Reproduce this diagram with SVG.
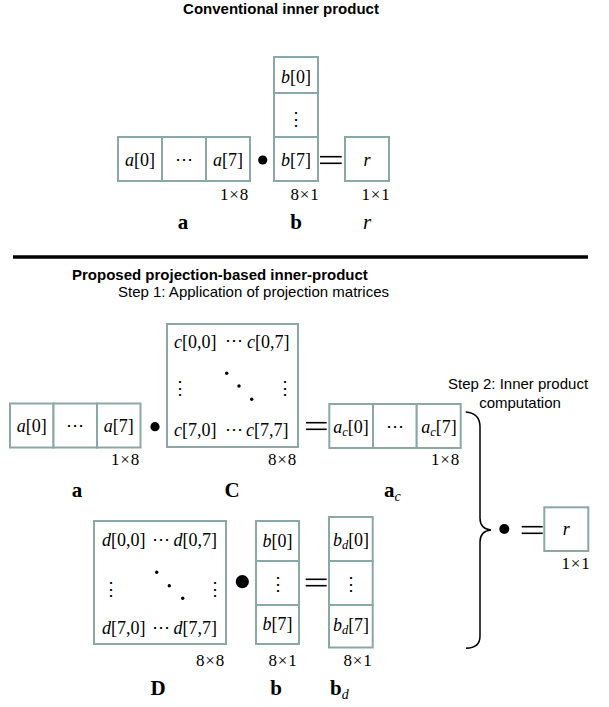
<svg xmlns="http://www.w3.org/2000/svg" width="609" height="707" viewBox="0 0 609 707">
<style>
.box{fill:#fff;stroke:#8ba7a8;stroke-width:2}
.m{font-family:"Liberation Serif","DejaVu Serif",serif;font-size:18px;fill:#000}
.i{font-style:italic}
.sz{font-family:"Liberation Serif","DejaVu Serif",serif;font-size:17px;letter-spacing:0.8px;fill:#000}
.lb{font-family:"Liberation Serif","DejaVu Serif",serif;font-weight:bold;font-size:21px;fill:#000}
.t{font-family:"Liberation Sans",Arial,sans-serif;font-size:15px;fill:#000}
.tb{font-weight:bold}
.eq{stroke:#000;stroke-width:1.6}
.dt{fill:#000}
.mid{text-anchor:middle}
.end{text-anchor:end}
.sub{font-size:12.5px}
</style>
<rect width="609" height="707" fill="#fff"/>

<text class="t tb mid" x="281" y="14">Conventional inner product</text>

<g id="top-a">
<rect class="box" x="118" y="137" width="44" height="44"/>
<rect class="box" x="162" y="137" width="44" height="44"/>
<rect class="box" x="206" y="137" width="44" height="44"/>
<text class="m mid" x="140" y="165.5"><tspan class="i">a</tspan>[0]</text>
<text class="m mid" x="184" y="164.5">⋯</text>
<text class="m mid" x="228" y="165.5"><tspan class="i">a</tspan>[7]</text>
<text class="sz end" x="249" y="200">1×8</text>
<text class="lb mid" x="183" y="229">a</text>
</g>

<g id="top-b">
<rect class="box" x="274" y="57" width="44" height="36"/>
<rect class="box" x="274" y="93" width="44" height="44"/>
<rect class="box" x="274" y="137" width="44" height="44"/>
<text class="m mid" x="296" y="83"><tspan class="i">b</tspan>[0]</text>
<text class="m mid" x="296" y="124.5">⋮</text>
<text class="m mid" x="296" y="165.5"><tspan class="i">b</tspan>[7]</text>
<text class="sz mid" x="305" y="200">8×1</text>
<text class="lb mid" x="296" y="229">b</text>
</g>

<g id="top-r">
<rect class="box" x="345" y="137" width="44" height="44"/>
<text class="m i mid" x="367" y="165.5">r</text>
<text class="sz mid" x="376" y="200">1×1</text>
<text class="m i mid" x="367" y="229" style="font-size:21px">r</text>
</g>

<line x1="13" y1="257" x2="588" y2="257" stroke="#000" stroke-width="3.5"/>

<text class="t tb" x="72" y="279.5">Proposed projection-based inner-product</text>
<text class="t" x="118" y="296.5">Step 1: Application of projection matrices</text>

<g id="mid-a">
<rect class="box" x="10" y="403.5" width="43.5" height="44"/>
<rect class="box" x="53.5" y="403.5" width="43.5" height="44"/>
<rect class="box" x="97" y="403.5" width="43.5" height="44"/>
<text class="m mid" x="31.75" y="432"><tspan class="i">a</tspan>[0]</text>
<text class="m mid" x="75.25" y="431">⋯</text>
<text class="m mid" x="118.75" y="432"><tspan class="i">a</tspan>[7]</text>
<text class="sz end" x="140" y="465">1×8</text>
<text class="lb mid" x="77" y="497">a</text>
</g>

<g id="mat-C">
<rect class="box" x="167" y="324" width="131" height="123"/>
<text class="m" x="174" y="347.5"><tspan class="i">c</tspan>[0,0]</text>
<text class="m mid" x="234" y="346">⋯</text>
<text class="m end" x="289.5" y="347.5"><tspan class="i">c</tspan>[0,7]</text>
<text class="m mid" x="180" y="393.5">⋮</text>
<text class="m mid" x="285" y="393.5">⋮</text>
<circle class="dt" cx="226.7" cy="373.3" r="1.7"/>
<circle class="dt" cx="239" cy="386" r="1.7"/>
<circle class="dt" cx="251.7" cy="399.3" r="1.7"/>
<text class="m" x="174" y="436"><tspan class="i">c</tspan>[7,0]</text>
<text class="m mid" x="234" y="434.5">⋯</text>
<text class="m end" x="288.5" y="436"><tspan class="i">c</tspan>[7,7]</text>
<text class="sz end" x="297" y="465">8×8</text>
<text class="lb mid" x="232" y="497">C</text>
</g>

<g id="vec-ac">
<rect class="box" x="329.3" y="404" width="43.7" height="44"/>
<rect class="box" x="373" y="404" width="43.7" height="44"/>
<rect class="box" x="416.7" y="404" width="44" height="44"/>
<text class="m mid" x="351" y="432.5"><tspan class="i">a</tspan><tspan class="i sub" dy="3">c</tspan><tspan dy="-3">[0]</tspan></text>
<text class="m mid" x="395" y="431.5">⋯</text>
<text class="m mid" x="439" y="432.5"><tspan class="i">a</tspan><tspan class="i sub" dy="3">c</tspan><tspan dy="-3">[7]</tspan></text>
<text class="sz end" x="460" y="465">1×8</text>
<text class="lb" x="384" y="497">a<tspan class="m i sub" style="font-weight:normal;font-size:14px" dy="4">c</tspan></text>
</g>

<text class="t mid" x="518" y="389">Step 2: Inner product</text>
<text class="t mid" x="520" y="408">computation</text>

<g id="mat-D">
<rect class="box" x="94" y="521" width="132" height="123"/>
<text class="m" x="102" y="546"><tspan class="i">d</tspan>[0,0]</text>
<text class="m mid" x="161" y="544.5">⋯</text>
<text class="m end" x="217" y="546"><tspan class="i">d</tspan>[0,7]</text>
<text class="m mid" x="110.7" y="594.5">⋮</text>
<text class="m mid" x="215" y="594.5">⋮</text>
<circle class="dt" cx="156.7" cy="572.3" r="1.7"/>
<circle class="dt" cx="169.3" cy="585.7" r="1.7"/>
<circle class="dt" cx="182.7" cy="598.3" r="1.7"/>
<text class="m" x="102" y="634"><tspan class="i">d</tspan>[7,0]</text>
<text class="m mid" x="161" y="632.5">⋯</text>
<text class="m end" x="217" y="634"><tspan class="i">d</tspan>[7,7]</text>
<text class="sz end" x="225" y="666">8×8</text>
<text class="lb mid" x="158" y="695">D</text>
</g>

<g id="bot-b">
<rect class="box" x="256" y="521" width="43" height="40"/>
<rect class="box" x="256" y="561" width="43" height="44"/>
<rect class="box" x="256" y="605" width="43" height="39"/>
<text class="m mid" x="277.5" y="546.5"><tspan class="i">b</tspan>[0]</text>
<text class="m mid" x="277.5" y="589.5">⋮</text>
<text class="m mid" x="277.5" y="630"><tspan class="i">b</tspan>[7]</text>
<text class="sz mid" x="283" y="666">8×1</text>
<text class="lb mid" x="276" y="695">b</text>
</g>

<g id="vec-bd">
<rect class="box" x="329" y="517" width="43.7" height="44"/>
<rect class="box" x="329" y="561" width="43.7" height="44"/>
<rect class="box" x="329" y="605" width="43.7" height="42.5"/>
<text class="m mid" x="351" y="546"><tspan class="i">b</tspan><tspan class="i sub" dy="3">d</tspan><tspan dy="-3">[0]</tspan></text>
<text class="m mid" x="351" y="589.5">⋮</text>
<text class="m mid" x="351" y="631"><tspan class="i">b</tspan><tspan class="i sub" dy="3">d</tspan><tspan dy="-3">[7]</tspan></text>
<text class="sz mid" x="358" y="666">8×1</text>
<text class="lb" x="330" y="695">b<tspan class="m i sub" style="font-weight:normal;font-size:14px" dy="4">d</tspan></text>
</g>

<g id="res-r">
<rect class="box" x="544.3" y="507.3" width="44" height="43.7"/>
<text class="m i mid" x="566.3" y="534.5">r</text>
<text class="sz mid" x="576" y="569">1×1</text>
</g>

<g id="connectors">
<circle class="dt" cx="262.7" cy="160" r="4.6"/>
<line class="eq" x1="320" y1="156.7" x2="341.7" y2="156.7"/>
<line class="eq" x1="320" y1="163.3" x2="341.7" y2="163.3"/>
<circle class="dt" cx="155" cy="426.7" r="4.6"/>
<line class="eq" x1="306" y1="422.7" x2="326.7" y2="422.7"/>
<line class="eq" x1="306" y1="429.3" x2="326.7" y2="429.3"/>
<circle class="dt" cx="242.3" cy="581.7" r="6.6"/>
<line class="eq" x1="305.7" y1="579.3" x2="326.7" y2="579.3"/>
<line class="eq" x1="305.7" y1="585.7" x2="326.7" y2="585.7"/>
<path d="M465.7,412 Q480,413 480,427 L480,518 Q480,529 491,530 Q480,531 480,542 L480,636 Q480,648 466,648.3" fill="none" stroke="#000" stroke-width="1.5"/>
<circle class="dt" cx="504.3" cy="529" r="5"/>
<line class="eq" x1="521.7" y1="526.7" x2="542.7" y2="526.7"/>
<line class="eq" x1="521.7" y1="533.3" x2="542.7" y2="533.3"/>
</g>
</svg>
